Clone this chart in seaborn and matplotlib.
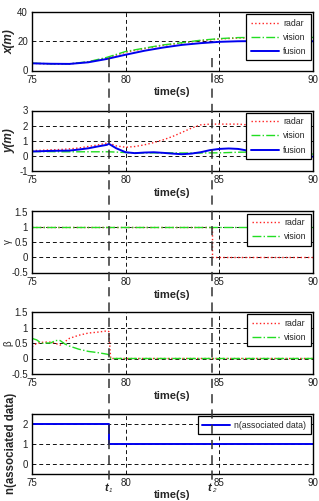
import numpy as np
import pandas as pd
import seaborn as sns
import matplotlib
matplotlib.use("Agg")
import matplotlib.pyplot as plt
from matplotlib.lines import Line2D
from matplotlib.transforms import blended_transform_factory

# ---------------- data ----------------
t_x = [75, 76, 77, 78, 79, 80, 81, 82, 83, 84, 85, 86, 87, 88, 89, 90]
radar_x = [4.9, 4.5, 4.5, 5.8, 8.6, 12.5, 15.0, 17.2, 18.8, 20.4, 21.5, 22.2, 22.4, 22.5, 22.4, 22.4]
vision_x = [5.0, 4.6, 4.6, 6.0, 9.0, 13.0, 15.3, 17.5, 19.0, 20.7, 21.8, 22.5, 22.6, 22.7, 22.6, 22.6]
fusion_x = [4.9, 4.6, 4.5, 5.6, 7.9, 10.8, 13.5, 15.7, 17.5, 18.7, 19.6, 20.0, 20.1, 20.1, 20.0, 20.0]

t_y = [75, 75.5, 76, 76.5, 77, 77.5, 78, 78.5, 79, 79.1, 79.5, 80, 80.5, 81, 81.5, 82,
       82.5, 83, 83.5, 84, 84.5, 85, 85.5, 86, 86.5, 87, 87.5, 88, 88.5, 89, 89.5, 90]
radar_y = [0.35, 0.37, 0.40, 0.42, 0.46, 0.52, 0.62, 0.72, 0.84, 0.85, 0.66, 0.57, 0.62, 0.73,
           0.88, 1.06, 1.28, 1.55, 1.83, 2.05, 2.10, 2.10, 2.10, 2.10, 2.05, 2.03, 2.02, 2.00,
           2.00, 2.00, 2.00, 2.00]
vision_y = [0.29, 0.28, 0.28, 0.27, 0.27, 0.27, 0.27, 0.27, 0.27, 0.27, 0.25, 0.22, 0.20, 0.20,
            0.20, 0.20, 0.20, 0.19, 0.19, 0.19, 0.20, 0.20, 0.22, 0.24, 0.25, 0.25, 0.24, 0.22,
            0.20, 0.18, 0.15, 0.12]
fusion_y = [0.29, 0.31, 0.33, 0.34, 0.35, 0.42, 0.50, 0.62, 0.73, 0.80, 0.50, 0.24, 0.18, 0.22,
            0.24, 0.20, 0.15, 0.11, 0.15, 0.24, 0.38, 0.46, 0.49, 0.46, 0.35, 0.24, 0.18, 0.12,
            0.08, 0.04, 0.00, -0.05]

t_gamma = [75, 84.6, 90]
radar_gamma = [1, 0, 0]
vision_gamma = [1, 1, 1]

t_beta = [75, 75.25, 75.5, 75.75, 76, 76.25, 76.5, 76.75, 77, 77.5, 78, 78.5, 79, 79.1, 79.2, 90]
radar_beta = [0.38, 0.49, 0.52, 0.53, 0.53, 0.49, 0.43, 0.54, 0.65, 0.75, 0.82, 0.85, 0.89, 0.87, 0.0, 0.0]
vision_beta = [0.65, 0.60, 0.49, 0.50, 0.50, 0.58, 0.58, 0.47, 0.40, 0.30, 0.23, 0.19, 0.14, 0.12, 0.0, 0.0]

t_n = [75, 79.1, 90]
n_assoc = [2, 1, 1]

t_events = [79.1, 84.6]
event_labels = ["1", "2"]

# ---------------- style ----------------
sns.set_theme(style="white")
plt.rcParams["font.family"] = ["Liberation Sans", "DejaVu Sans"]
plt.rcParams["axes.unicode_minus"] = False

RED = "#ff2020"
GREEN = "#22dd22"
BLUE = "#0000ee"
GRID_LS = (0, (4, 3))

fig = plt.figure(figsize=(3.19, 5.01), dpi=100)
W, H = 319.0, 501.0
left = 32 / W
width = (313 - 32) / W
# (top px, bottom px)
boxes = [(12, 70.5), (110.5, 171), (211.5, 272.5), (312, 374), (414, 473.5)]
axes = []
for top, bot in boxes:
    ax = fig.add_axes([left, 1 - bot / H, width, (bot - top) / H])
    axes.append(ax)


def draw(ax, t, y, color, ls, lw, label, steps=False):
    kw = {}
    if steps:
        kw["drawstyle"] = "steps-post"
    sns.lineplot(x=t, y=y, ax=ax, color=color, linestyle=ls, linewidth=lw,
                 label=label, estimator=None, sort=False, **kw)


def style_axes(ax, ylim, yticks, yticklabels=None):
    ax.set_xlim(75, 90)
    ax.set_ylim(*ylim)
    ax.set_xticks([75, 80, 85, 90])
    ax.set_yticks(yticks)
    if yticklabels is not None:
        ax.set_yticklabels(yticklabels)
    ax.tick_params(axis="both", labelsize=7, direction="in", length=2, pad=3,
                   colors="#222222", width=0.8)
    ax.grid(True, color="#111111", linestyle=GRID_LS, linewidth=0.7)
    for s in ax.spines.values():
        s.set_color("black")
        s.set_linewidth(1.0)
    ax.set_xlabel("time(s)", fontsize=8, fontweight="bold")
    ax.xaxis.set_label_coords(0.5, -0.28)
    ax.set_axisbelow(True)


def legend(ax):
    leg = ax.legend(loc="upper right", fontsize=6.3, frameon=True, fancybox=False,
                    framealpha=1, edgecolor="black", handlelength=3.2,
                    borderaxespad=0.25, borderpad=0.5, labelspacing=0.6,
                    handletextpad=0.5)
    leg.get_frame().set_linewidth(0.9)


# Panel 1: x(m)
ax = axes[0]
draw(ax, t_x, radar_x, RED, ":", 1.0, "radar")
draw(ax, t_x, vision_x, GREEN, "-.", 1.0, "vision")
draw(ax, t_x, fusion_x, BLUE, "-", 1.4, "fusion")
style_axes(ax, (0, 40), [0, 20, 40])
ax.set_ylabel("x(m)", fontsize=8.5, fontweight="bold", style="italic")
legend(ax)

# Panel 2: y(m)
ax = axes[1]
draw(ax, t_y, radar_y, RED, ":", 1.0, "radar")
draw(ax, t_y, vision_y, GREEN, "-.", 1.0, "vision")
draw(ax, t_y, fusion_y, BLUE, "-", 1.4, "fusion")
style_axes(ax, (-1, 3), [-1, 0, 1, 2, 3])
ax.set_ylabel("y(m)", fontsize=8.5, fontweight="bold", style="italic")
legend(ax)

# Panel 3: gamma
ax = axes[2]
draw(ax, t_gamma, radar_gamma, RED, ":", 1.0, "radar", steps=True)
draw(ax, t_gamma, vision_gamma, GREEN, "-.", 1.0, "vision", steps=True)
style_axes(ax, (-0.5, 1.5), [-0.5, 0, 0.5, 1, 1.5], ["-0.5", "0", "0.5", "1", "1.5"])
ax.set_ylabel("γ", fontsize=7)
legend(ax)

# Panel 4: beta
ax = axes[3]
draw(ax, t_beta, radar_beta, RED, ":", 1.0, "radar")
draw(ax, t_beta, vision_beta, GREEN, "-.", 1.0, "vision")
style_axes(ax, (-0.5, 1.5), [-0.5, 0, 0.5, 1, 1.5], ["-0.5", "0", "0.5", "1", "1.5"])
ax.set_ylabel("β", fontsize=7)
legend(ax)

# Panel 5: n(associated data)
ax = axes[4]
draw(ax, t_n, n_assoc, BLUE, "-", 1.4, "n(associated data)", steps=True)
style_axes(ax, (-0.5, 2.5), [0, 1, 2])
ax.set_ylabel("n(associated data)", fontsize=8.3, fontweight="bold")
legend(ax)
ax.xaxis.set_label_coords(0.5, -0.285)

axes[0].yaxis.set_label_coords(-0.06, 0.5)
axes[1].yaxis.set_label_coords(-0.06, 0.5)
axes[2].yaxis.set_label_coords(-0.068, 0.5)
axes[3].yaxis.set_label_coords(-0.068, 0.5)
axes[4].yaxis.set_label_coords(-0.055, 0.5)

# vertical event lines spanning the figure
tr = blended_transform_factory(axes[4].transData, fig.transFigure)
for te, lab in zip(t_events, event_labels):
    ln = Line2D([te, te], [1 - 58 / H, 1 - 480 / H], transform=tr, color="#333333",
                linestyle=(0, (6, 4)), linewidth=1.1, zorder=20)
    fig.add_artist(ln)
    fig.text(te - 0.12, 1 - 488 / H, "t", transform=tr, ha="center", va="center",
             fontsize=8, fontweight="bold", style="italic", zorder=21)
    fig.text(te + 0.02, 1 - 488 / H, lab, transform=tr, ha="left", va="top",
             fontsize=4.5, style="italic", zorder=21)

fig.savefig("out.png", dpi=100)
